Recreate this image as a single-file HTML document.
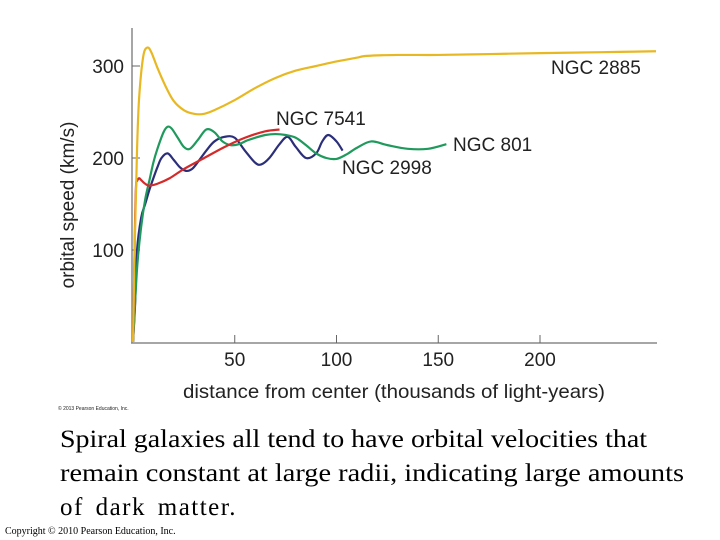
<!DOCTYPE html>
<html><head><meta charset="utf-8"><style>
html,body{margin:0;padding:0;background:#fff;width:720px;height:540px;overflow:hidden}
svg{display:block}
.t{font-family:"Liberation Sans",sans-serif;fill:#222}
.s{font-family:"Liberation Serif",serif;fill:#000}
</style></head><body>
<svg id="c" width="720" height="540">
<g id="axes"></g><g id="series"></g><g id="labels"></g>
<text class="s" x="60" y="447" font-size="25" textLength="587" lengthAdjust="spacingAndGlyphs">Spiral galaxies all tend to have orbital velocities that</text>
<text class="s" x="60" y="481" font-size="25" textLength="624" lengthAdjust="spacingAndGlyphs">remain constant at large radii,  indicating large amounts</text>
<text class="s" x="60" y="515" font-size="25" word-spacing="4" letter-spacing="1.5">of dark matter.</text>
<text class="s" x="5" y="534" font-size="10">Copyright © 2010 Pearson Education, Inc.</text>
<text class="t" x="58" y="410" font-size="5" fill="#777">© 2013 Pearson Education, Inc.</text>
</svg>
<script>
const xTicks=[50,100,150,200];
const yTicks=[100,200,300];
const names=["NGC 2885","NGC 7541","NGC 801","NGC 2998"];
const colors=["#e8b823","#d42a2a","#1f9a5c","#2b2f7a"];
const x2885=[0,1,2,3,5,7,9,12,16,20,25,30,35,40,50,60,70,80,90,100,110,115,130,150,175,200,230,257];
const v2885=[0,120,210,265,310,320,315,298,278,262,252,248,248,252,263,276,287,295,300,305,309,311,312,312,313,314,315,316];
const x7541=[0,0.5,1,1.5,2,3,4,6,8,12,18,25,35,45,55,65,72];
const v7541=[0,60,130,170,175,178,176,172,170,172,178,188,200,212,222,229,231];
const x801=[0,2,4,6,8,10,12,15,17,19,22,25,28,32,36,40,44,48,52,56,60,65,70,75,80,85,90,95,100,105,110,117,125,135,145,154];
const v801=[0,80,125,155,175,195,210,228,234,232,222,212,210,220,231,228,218,214,215,219,222,225,226,225,222,214,205,200,199,204,211,218,214,210,210,215];
const x2998=[0,1,2,4,6,8,10,12,14,17,20,23,26,29,32,36,40,45,50,55,60,63,67,72,76,80,85,90,93,96,100,103];
const v2998=[0,40,100,135,150,165,178,190,200,205,198,190,186,188,196,208,218,223,222,208,195,193,200,215,223,212,200,205,218,225,218,208];
const xs=[x2885,x7541,x801,x2998];
const vs=[v2885,v7541,v801,v2998];
const labelPos=[[551,74],[276,125],[453,151],[342,174]];
const X=v=>133+v*2.035, Y=v=>342-v*0.92;
const NS="http://www.w3.org/2000/svg";
function mk(tag,at,parent){const e=document.createElementNS(NS,tag);for(const k in at)e.setAttribute(k,at[k]);document.getElementById(parent).appendChild(e);return e;}
let e=mk('line',{x1:132,y1:28,x2:132,y2:343,stroke:'#888','stroke-width':1.5},'axes');


e=mk('line',{x1:131,y1:343,x2:657,y2:343,stroke:'#888','stroke-width':1.5},'axes');


xTicks.forEach(t=>{
 e=mk('line',{x1:X(t),y1:343,x2:X(t),y2:335,stroke:'#666'},'axes');
 
 
 e=mk('text',{x:X(t),y:366,'font-size':19,'text-anchor':'middle',class:'t'},'axes');e.textContent=t;
 
 
});
yTicks.forEach(t=>{
 e=mk('line',{x1:132,y1:Y(t),x2:140,y2:Y(t),stroke:'#666'},'axes');
 
 
 e=mk('text',{x:124,y:Y(t)+7,'font-size':19,'text-anchor':'end',class:'t'},'axes');e.textContent=t;
 
 
});
e=mk('text',{x:183,y:398,'font-size':19.5,textLength:422,lengthAdjust:'spacingAndGlyphs',class:'t'},'axes');e.textContent='distance from center (thousands of light-years)';


e=mk('text',{x:0,y:0,'font-size':19,'text-anchor':'middle',class:'t',transform:'translate(74,205) rotate(-90)'},'axes');e.textContent='orbital speed (km/s)';


function smooth(px){let d='M'+px[0][0]+','+px[0][1];for(let i=0;i<px.length-1;i++){const p0=px[Math.max(0,i-1)],p1=px[i],p2=px[i+1],p3=px[Math.min(px.length-1,i+2)];d+=' C'+(p1[0]+(p2[0]-p0[0])/6)+','+(p1[1]+(p2[1]-p0[1])/6)+' '+(p2[0]-(p3[0]-p1[0])/6)+','+(p2[1]-(p3[1]-p1[1])/6)+' '+p2[0]+','+p2[1];}return d;}
[3,2,1,0].forEach(i=>{
 const px=xs[i].map((x,j)=>[X(x),Y(vs[i][j])]);
 e=mk('path',{d:smooth(px),fill:'none',stroke:colors[i],'stroke-width':2.2},'series');
 
 
 e=mk('text',{x:labelPos[i][0],y:labelPos[i][1],'font-size':19,class:'t'},'labels');e.textContent=names[i];
 
 
});
</script>
</body></html>
